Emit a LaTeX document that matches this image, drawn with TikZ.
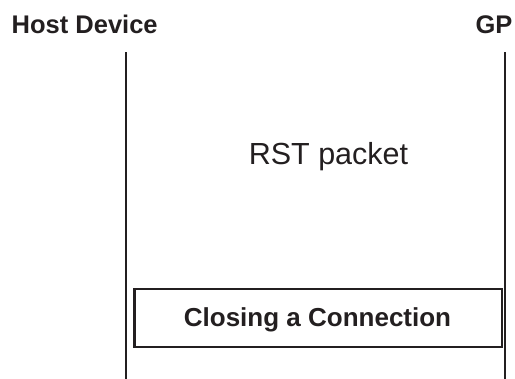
\documentclass[tikz,border=0pt]{standalone}
\usepackage{fontspec}
\setmainfont{Liberation Sans}
\definecolor{ink}{HTML}{231F20}
\begin{document}
\begin{tikzpicture}[x=1pt,y=-1pt,
  label/.style={text=ink,inner sep=0pt,anchor=base},
  head/.style={label,font=\bfseries\fontsize{25.5}{30}\selectfont},
  msg/.style={label,font=\fontsize{30.5}{36}\selectfont},
  lifeline/.style={draw=ink,line width=2pt},
  phase/.style={draw=ink,line width=2.3pt}]
\useasboundingbox (0,0) rectangle (515,379);
% participants
\node[head] (host) at (84.7,33.3) {Host Device};
\node[head] (gp) at (494,33.3) {GP};
% lifelines
\coordinate (hostTop) at (126.3,52.3);
\coordinate (hostBot) at (126.3,379);
\coordinate (gpTop) at (504.7,52.3);
\coordinate (gpBot) at (504.7,379);
\draw[lifeline] (hostTop) -- (hostBot);
\draw[lifeline] (gpTop) -- (gpBot);
% message label
\node[msg] (rst) at (328.5,165) {RST packet};
% phase box
\node[phase,minimum width=367.5pt,minimum height=57.7pt,inner sep=0pt] (close) at (318.25,317.85) {};
\node[head,font=\bfseries\fontsize{26}{31}\selectfont] (closeText) at (317.5,327) {Closing a Connection};
\end{tikzpicture}
\end{document}
